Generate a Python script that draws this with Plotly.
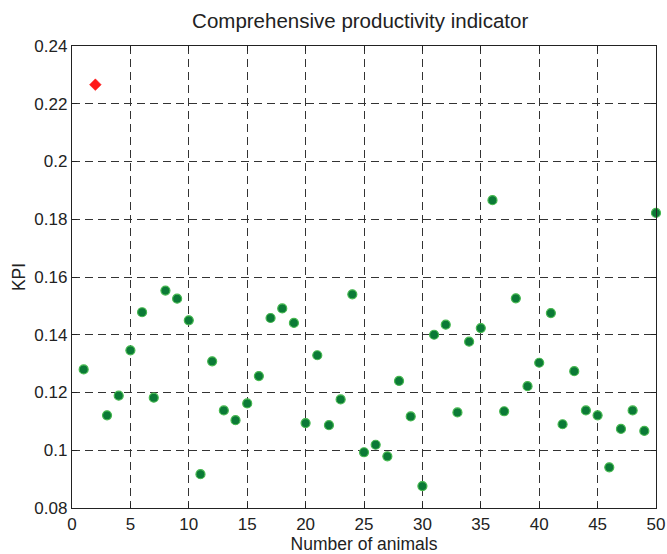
import plotly.graph_objects as go

# Data
animals = list(range(1, 51))
kpi = [0.1280, 0.2266, 0.1121, 0.1189, 0.1346, 0.1478, 0.1182, 0.1553, 0.1525, 0.1450,
       0.0917, 0.1308, 0.1138, 0.1104, 0.1162, 0.1257, 0.1458, 0.1491, 0.1441, 0.1094,
       0.1329, 0.1087, 0.1176, 0.1540, 0.0993, 0.1019, 0.0979, 0.1240, 0.1117, 0.0876,
       0.1400, 0.1435, 0.1131, 0.1376, 0.1423, 0.1866, 0.1135, 0.1526, 0.1222, 0.1303,
       0.1475, 0.1090, 0.1274, 0.1138, 0.1121, 0.0941, 0.1074, 0.1138, 0.1067, 0.1822]
outlier_ids = [2]

normal_x = [a for a in animals if a not in outlier_ids]
normal_y = [k for a, k in zip(animals, kpi) if a not in outlier_ids]
out_x = [a for a in animals if a in outlier_ids]
out_y = [k for a, k in zip(animals, kpi) if a in outlier_ids]

x_ticks = [0, 5, 10, 15, 20, 25, 30, 35, 40, 45, 50]
y_ticks = [0.08, 0.1, 0.12, 0.14, 0.16, 0.18, 0.2, 0.22, 0.24]
y_labels = ["0.08", "0.1", "0.12", "0.14", "0.16", "0.18", "0.2", "0.22", "0.24"]

fig = go.Figure()
fig.add_trace(go.Scatter(
    x=normal_x, y=normal_y, mode="markers",
    marker=dict(symbol="circle", size=9, color="#0b7a36",
                line=dict(color="#46b84f", width=1.2)),
    showlegend=False, cliponaxis=False))
fig.add_trace(go.Scatter(
    x=out_x, y=out_y, mode="markers",
    marker=dict(symbol="diamond", size=9, color="#ff1a1a",
                line=dict(color="#ff1a1a", width=0.5)),
    showlegend=False, cliponaxis=False))

font = "Liberation Sans, Arial, sans-serif"
axis_common = dict(
    showline=True, linecolor="#222222", linewidth=1.3, mirror="ticks",
    ticks="inside", ticklen=5, tickcolor="#222222", tickwidth=1,
    showgrid=True, gridcolor="#333333", gridwidth=1, griddash="8px,5px",
    zeroline=False, automargin=False,
    tickfont=dict(family=font, size=17, color="#222222"),
)

fig.update_layout(
    width=667, height=554,
    margin=dict(l=72, r=11, t=46, b=46),
    paper_bgcolor="white", plot_bgcolor="white",
    title=dict(text="Comprehensive productivity indicator",
               x=0.54, xanchor="center", y=0.962, yanchor="middle",
               font=dict(family=font, size=20.5, color="#222222")),
    xaxis=dict(range=[0, 50], tickvals=x_ticks,
               title=dict(text="Number of animals", standoff=1,
                          font=dict(family=font, size=17.5, color="#222222")),
               **axis_common),
    yaxis=dict(range=[0.08, 0.24], tickvals=y_ticks, ticktext=y_labels,
               title=dict(text="KPI", standoff=4,
                          font=dict(family=font, size=17.5, color="#222222")),
               **axis_common),
)

fig.write_html("out.html", config={"displayModeBar": False},
               post_script="document.body.style.margin='0';document.body.style.padding='0';")
